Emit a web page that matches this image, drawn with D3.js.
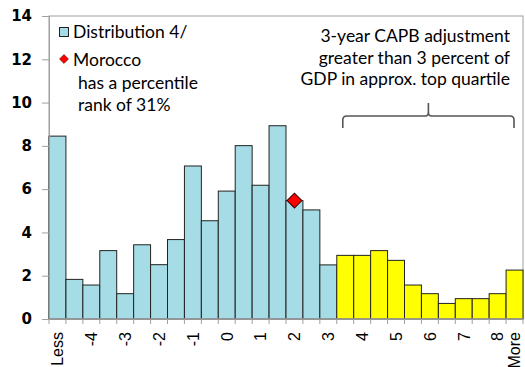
<!DOCTYPE html>
<html>
<head>
<meta charset="utf-8">
<script src="https://cdn.jsdelivr.net/npm/d3@7"></script>
<style>
  html, body { margin: 0; padding: 0; background: #fff; }
  svg { display: block; }
</style>
</head>
<body>
<svg id="chart" width="525" height="367"></svg>
<script>
// ---- data ----
const categories = ["Less","-4.5","-4","-3.5","-3","-2.5","-2","-1.5","-1","-0.5","0","0.5","1","1.5","2","2.5","3","3.5","4","4.5","5","5.5","6","6.5","7","7.5","8","More"];
const distribution = [8.45,1.83,1.57,3.16,1.17,3.43,2.51,3.67,7.07,4.54,5.91,8.01,6.18,8.93,5.47,5.04,2.50,2.94,2.94,3.16,2.71,1.57,1.17,0.72,0.94,0.94,1.17,2.26];
const topQuartileCategories = ["3.5","4","4.5","5","5.5","6","6.5","7","7.5","8","More"];
const moroccoCategory = ["2"];
const moroccoValue = [5.47];
const xTickLabels = ["Less","-4","-3","-2","-1","0","1","2","3","4","5","6","7","8","More"];
const yTicks = [0,2,4,6,8,10,12,14];
const legendLabels = ["Distribution 4/","Morocco"];
const noteLines = ["has a percentile","rank of 31%"];
const annotationLines = ["3-year CAPB adjustment","greater than 3 percent of","GDP in approx. top quartile"];

// ---- layout ----
const svg = d3.select("#chart");
const L = 49, R = 523, T = 16, B = 319;
const x = d3.scaleBand().domain(categories).range([L, R]).padding(0);
const y = d3.scaleLinear().domain([0, 14]).range([B, T]);
const blue = "#a6dce6", yellow = "#ffff00", axisGray = "#a0a0a0";
const tickFont = "'DejaVu Sans', sans-serif";
const labelFont = "'Liberation Sans', Arial, sans-serif";
const textFont = "Lato, 'Open Sans', sans-serif";

// plot border
svg.append("rect").attr("x", L).attr("y", T).attr("width", R - L).attr("height", B - T)
  .attr("fill", "none").attr("stroke", axisGray).attr("stroke-width", 1);

// bars
svg.append("g").selectAll("rect").data(categories).join("rect")
  .attr("x", d => x(d))
  .attr("y", (d, i) => y(distribution[i]))
  .attr("width", x.bandwidth())
  .attr("height", (d, i) => y(0) - y(distribution[i]))
  .attr("fill", d => topQuartileCategories.includes(d) ? yellow : blue)
  .attr("stroke", "#222")
  .attr("stroke-width", 1);

// y axis
const yAxis = svg.append("g").attr("transform", `translate(${L},0)`)
  .call(d3.axisLeft(y).tickValues(yTicks).tickSize(7).tickPadding(10).tickFormat(d3.format("d")));
yAxis.select(".domain").attr("stroke", axisGray);
yAxis.selectAll(".tick line").attr("stroke", axisGray);
yAxis.selectAll("text").style("font-family", tickFont).style("font-weight", "bold")
  .style("font-size", "15px").attr("fill", "#000");

// x axis line
svg.append("line").attr("x1", L).attr("x2", R).attr("y1", B).attr("y2", B)
  .attr("stroke", axisGray).attr("stroke-width", 1.5);
// x boundary ticks
const bounds = categories.map(c => x(c)).concat([R]);
svg.append("g").selectAll("line").data(bounds).join("line")
  .attr("x1", d => d).attr("x2", d => d).attr("y1", B).attr("y2", B + 5)
  .attr("stroke", axisGray);

// x labels
const xAxis = svg.append("g").attr("transform", `translate(0,${B})`)
  .call(d3.axisBottom(x).tickValues(xTickLabels).tickSize(0));
xAxis.select(".domain").remove();
xAxis.selectAll("text")
  .attr("transform", "rotate(-90)")
  .attr("x", -13).attr("y", 0).attr("dy", "0.36em")
  .style("text-anchor", "end")
  .style("font-family", labelFont).style("font-size", "16px").attr("fill", "#000");

// Morocco marker
svg.append("g").selectAll("path").data(moroccoCategory).join("path")
  .attr("transform", (d, i) => `translate(${x(d) + x.bandwidth() / 2},${y(moroccoValue[i])}) rotate(45)`)
  .attr("d", d3.symbol().type(d3.symbolSquare).size(110)())
  .attr("fill", "#ff0000").attr("stroke", "#3a0000").attr("stroke-width", 1);

// legend
const lg = svg.append("g");
lg.append("rect").attr("x", 59.5).attr("y", 27.5).attr("width", 9).attr("height", 9)
  .attr("fill", blue).attr("stroke", "#222").attr("stroke-width", 1);
lg.append("text").attr("x", 73).attr("y", 37.5).text(legendLabels[0]);
lg.append("path").attr("transform", "translate(64,59) rotate(45)")
  .attr("d", d3.symbol().type(d3.symbolSquare).size(40)())
  .attr("fill", "#ff0000").attr("stroke", "#3a0000").attr("stroke-width", 0.5);
lg.append("text").attr("x", 73).attr("y", 65.5).text(legendLabels[1]);
lg.selectAll("text.note").data(noteLines).join("text").attr("class", "note")
  .attr("x", 78).attr("y", (d, i) => 88.5 + i * 22).text(d => d);
lg.selectAll("text").style("font-family", textFont).style("font-size", "17.5px").attr("fill", "#000");

// annotation
const an = svg.append("g");
an.selectAll("text").data(annotationLines).join("text")
  .attr("x", 510).attr("y", (d, i) => 42 + i * 21.5)
  .attr("text-anchor", "end")
  .style("font-family", textFont).style("font-size", "17.5px").attr("fill", "#000")
  .text(d => d);

// brace
const bx1 = x("3.5") + 6, bx2 = R - 9, bm = (bx1 + bx2) / 2, by = 116;
an.append("path")
  .attr("d", `M${bx1},${by + 12} L${bx1},${by + 4} Q${bx1},${by} ${bx1 + 4},${by} L${bm - 3},${by} Q${bm},${by} ${bm},${by - 4} L${bm},${by - 13} L${bm},${by - 4} Q${bm},${by} ${bm + 3},${by} L${bx2 - 4},${by} Q${bx2},${by} ${bx2},${by + 4} L${bx2},${by + 12}`)
  .attr("fill", "none").attr("stroke", "#555").attr("stroke-width", 1.6);
</script>
</body>
</html>
